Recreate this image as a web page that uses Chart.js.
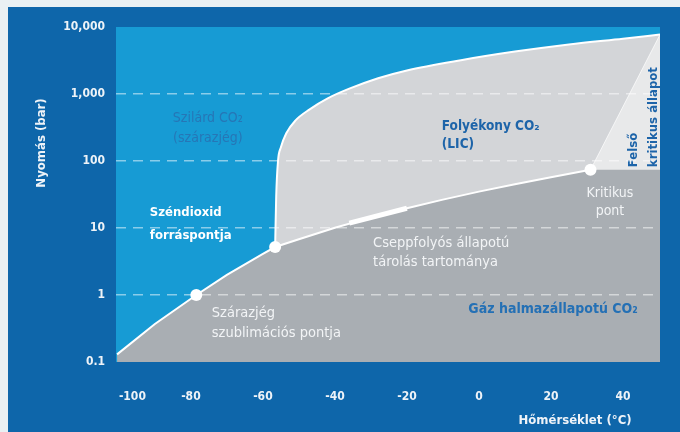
<!DOCTYPE html>
<html lang="hu">
<head>
<meta charset="UTF-8">
<title>CO2 fázisdiagram</title>
<script src="https://cdn.jsdelivr.net/npm/chart.js"></script>
<style>
    html, body { margin: 0; padding: 0; background: #e9f0f3; }
    #panel { position: absolute; left: 8px; top: 7px; width: 672px; height: 425px; background: #0e66aa; }
    canvas { display: block; }
</style>
</head>
<body>
<div id="panel"><canvas id="phase"></canvas></div>
<script>
    // szublimációs görbe (°C, bar)
    const sublimT = [-100.5, -90, -78.5, -70, -60, -56.6];
    const sublimP = [0.13, 0.37, 1, 2.0, 4.1, 5.2];
    // forráspont görbe: hármaspont -> kritikus pont
    const vapT = [-56.6, -50, -40, -30, -20, -10, 0, 10, 20, 31];
    const vapP = [5.2, 6.8, 10.1, 14.3, 19.7, 26.5, 34.9, 45, 57.3, 73.8];
    // olvadáspont görbe (szilárd / folyékony határ)
    const meltT = [-56.6, -56.3, -55.8, -55, -53.5, -51, -47, -42, -36, -28, -20, -5, 10, 25, 40, 50.3];
    const meltP = [5.2, 30, 100, 160, 260, 400, 590, 860, 1200, 1720, 2250, 3200, 4300, 5500, 6700, 7700];
    // felső kritikus állapot határa
    const superT = [31, 50.3];
    const superP = [73.8, 7700];
    // cseppfolyós tárolás tartománya
    const storeT = [-36, -20];
    const storeP = [11.8, 19.7];
    // szublimációs pont, hármaspont, kritikus pont
    const keyT = [-78.5, -56.6, 31];
    const keyP = [1, 5.2, 73.8];

    const xTicks = [-100, -80, -60, -40, -20, 0, 20, 40];
    const yTicks = [0.1, 1, 10, 100, 1000, 10000];
    const yTickLabels = ['0.1', '1', '10', '100', '1,000', '10,000'];

    const FONT = '"DejaVu Sans Condensed", "Liberation Sans Narrow", sans-serif';

    // gáz tartomány = szublimációs + forráspont görbe, majd vízszintesen a jobb szélig
    const boundT = sublimT.concat(vapT.slice(1));
    const boundP = sublimP.concat(vapP.slice(1));
    const gasT = boundT.concat([50.3]);
    const gasP = boundP.concat([73.8]);

    const pts = (xs, ys) => xs.map((x, i) => ({ x: x, y: ys[i] }));

    // feliratok (első sor helye °C / bar értékben)
    const notes = [
        { lines: ['Szilárd CO₂', '(szárazjég)'], t: -75.3, p: 437, lh: 20, align: 'center', color: '#2676b6', weight: 'normal', size: 14 },
        { lines: ['Széndioxid', 'forráspontja'], t: -91.4, p: 16.7, lh: 23, align: 'left', color: '#ffffff', weight: 'bold', size: 13 },
        { lines: ['Szárazjég', 'szublimációs pontja'], t: -74.2, p: 0.54, lh: 20, align: 'left', color: '#f2f4f6', weight: 'normal', size: 14.5 },
        { lines: ['Folyékony CO₂', '(LIC)'], t: -10.3, p: 330, lh: 18, align: 'left', color: '#1d64a9', weight: 'bold', size: 13.5 },
        { lines: ['Cseppfolyós állapotú', 'tárolás tartománya'], t: -29.4, p: 6.0, lh: 19, align: 'left', color: '#f2f4f6', weight: 'normal', size: 14.5 },
        { lines: ['Gáz halmazállapotú CO₂'], t: 20.6, p: 0.62, lh: 18, align: 'center', color: '#2470b5', weight: 'bold', size: 14 },
        { lines: ['Kritikus', 'pont'], t: 36.4, p: 33, lh: 18, align: 'center', color: '#f2f4f6', weight: 'normal', size: 14 },
        { lines: ['Felső', 'kritikus állapot'], t: 43, p: 81, lh: 20, align: 'left', color: '#1d64a9', weight: 'bold', size: 13, rotate: true }
    ];

    const areaBg = {
        id: 'areaBg',
        beforeDatasetsDraw(chart) {
            const { ctx, chartArea: a } = chart;
            ctx.save();
            ctx.fillStyle = '#179bd4';
            ctx.fillRect(a.left, a.top, a.width, a.height);
            ctx.restore();
        }
    };

    const labels = {
        id: 'labels',
        afterDatasetsDraw(chart) {
            const ctx = chart.ctx;
            const xs = chart.scales.x, ys = chart.scales.y;
            ctx.save();
            notes.forEach(n => {
                const px = xs.getPixelForValue(n.t);
                const py = ys.getPixelForValue(n.p);
                ctx.font = n.weight + ' ' + n.size + 'px ' + FONT;
                ctx.fillStyle = n.color;
                ctx.textAlign = n.align;
                ctx.textBaseline = 'middle';
                if (n.rotate) {
                    ctx.save();
                    ctx.translate(px, py);
                    ctx.rotate(-Math.PI / 2);
                    n.lines.forEach((s, i) => ctx.fillText(s, 0, i * n.lh));
                    ctx.restore();
                } else {
                    n.lines.forEach((s, i) => ctx.fillText(s, px, py + i * n.lh));
                }
            });
            ctx.restore();
        },
        afterDraw(chart) {
            // tengelyfeliratok
            const ctx = chart.ctx;
            ctx.save();
            ctx.font = 'bold 13px ' + FONT;
            ctx.fillStyle = '#eef3f8';
            ctx.textAlign = 'center';
            ctx.textBaseline = 'middle';
            ctx.translate(34, 136);
            ctx.rotate(-Math.PI / 2);
            ctx.fillText('Nyomás (bar)', 0, 0);
            ctx.restore();
            ctx.save();
            ctx.font = 'bold 13px ' + FONT;
            ctx.fillStyle = '#eef3f8';
            ctx.textAlign = 'center';
            ctx.textBaseline = 'middle';
            ctx.fillText('Hőmérséklet (°C)', 567, 414);
            ctx.restore();
        }
    };

    new Chart(document.getElementById('phase'), {
        type: 'line',
        data: {
            datasets: [
                {
                    label: 'Nevezetes pontok',
                    data: pts(keyT, keyP),
                    showLine: false,
                    pointRadius: 6,
                    pointBackgroundColor: '#ffffff',
                    pointBorderWidth: 0,
                    order: 0
                },
                {
                    label: 'Tárolás',
                    data: pts(storeT, storeP),
                    borderColor: '#ffffff',
                    borderWidth: 5,
                    pointRadius: 0,
                    fill: false,
                    order: 1
                },
                {
                    label: 'Határgörbe',
                    data: pts(boundT, boundP),
                    borderColor: '#ffffff',
                    borderWidth: 2,
                    pointRadius: 0,
                    fill: false,
                    order: 2
                },
                {
                    label: 'Gáz',
                    data: pts(gasT, gasP),
                    borderWidth: 0,
                    borderColor: 'rgba(0,0,0,0)',
                    backgroundColor: '#a9aeb3',
                    fill: 'start',
                    pointRadius: 0,
                    order: 3
                },
                {
                    label: 'Szuperkritikus',
                    data: pts(superT, superP),
                    borderColor: 'rgba(255,255,255,0.7)',
                    borderWidth: 1,
                    backgroundColor: '#e8e9ea',
                    fill: 'start',
                    pointRadius: 0,
                    order: 4
                },
                {
                    label: 'Folyékony',
                    data: pts(meltT, meltP),
                    borderColor: '#ffffff',
                    borderWidth: 2,
                    backgroundColor: '#d3d5d8',
                    fill: 'start',
                    pointRadius: 0,
                    cubicInterpolationMode: 'monotone',
                    order: 5
                }
            ]
        },
        options: {
            responsive: true,
            maintainAspectRatio: false,
            animation: false,
            events: [],
            layout: { padding: { left: 0, top: 20, right: 20, bottom: 0 } },
            plugins: {
                legend: { display: false },
                tooltip: { enabled: false }
            },
            scales: {
                x: {
                    type: 'linear',
                    min: -100.8,
                    max: 50.3,
                    afterBuildTicks: s => { s.ticks = xTicks.concat([s.max]).map(v => ({ value: v })); },
                    afterFit: s => { s.height = 70; },
                    grid: { display: false },
                    border: { display: false },
                    ticks: {
                        align: 'inner',
                        autoSkip: false,
                        maxRotation: 0,
                        padding: 20,
                        color: '#eef3f8',
                        font: { family: FONT, size: 12, weight: 'bold' },
                        callback: v => xTicks.includes(v) ? String(v) : ''
                    }
                },
                y: {
                    type: 'logarithmic',
                    min: 0.1,
                    max: 10000,
                    afterBuildTicks: s => { s.ticks = yTicks.map(v => ({ value: v })); },
                    afterFit: s => { s.width = 108; },
                    grid: {
                        z: 1,
                        drawTicks: false,
                        lineWidth: 1.5,
                        color: c => (c.tick && c.tick.value > 0.1 && c.tick.value < 10000) ? 'rgba(255,255,255,0.5)' : 'rgba(0,0,0,0)'
                    },
                    border: { display: false, dash: [10, 7] },
                    ticks: {
                        padding: 11,
                        color: '#eef3f8',
                        font: { family: FONT, size: 12, weight: 'bold' },
                        callback: v => yTickLabels[yTicks.indexOf(v)]
                    }
                }
            }
        },
        plugins: [areaBg, labels]
    });
</script>
</body>
</html>
